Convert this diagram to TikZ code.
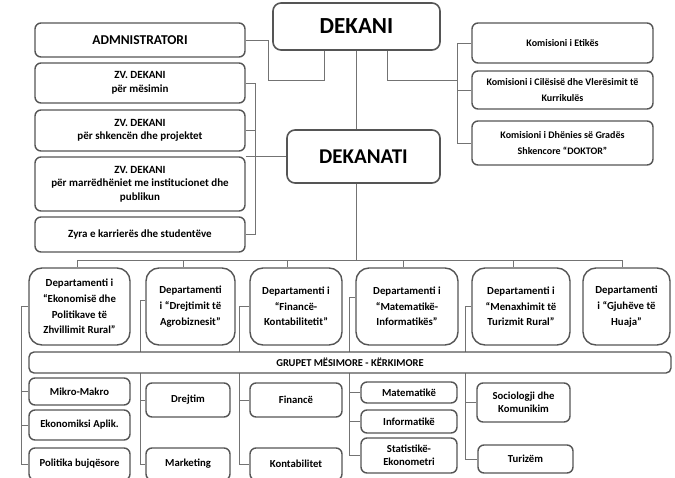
\documentclass[tikz,border=0pt]{standalone}
\usepackage{fontspec}
\setmainfont{Carlito}
\usetikzlibrary{backgrounds}
\definecolor{boxgray}{RGB}{85,85,85}
\definecolor{linegray}{RGB}{115,115,115}
\tikzset{
	box/.style={draw=boxgray, line width=1.4pt, rounded corners=6pt, fill=white, align=center, inner sep=1pt, font=\bfseries\fontsize{11}{13.5}\selectfont},
	bigbox/.style={box, line width=1.6pt, rounded corners=8pt, font=\bfseries\fontsize{23}{26}\selectfont},
	kombox/.style={box, font=\bfseries\fontsize{10}{16.5}\selectfont},
	dept/.style={box, rounded corners=13pt, minimum height=77pt, font=\bfseries\fontsize{10.8}{15.7}\selectfont},
	group/.style={box, font=\bfseries\fontsize{10.7}{13}\selectfont},
	link/.style={draw=linegray, line width=0.9pt},
}
\begin{document}
\begin{tikzpicture}[x=1pt,y=-1pt]
	\useasboundingbox (0,0) rectangle (675,477);
	\clip (0,0) rectangle (675,477);
	\pgfmathsetmacro\LX{140}
	\pgfmathsetmacro\LW{210}
	\pgfmathsetmacro\RX{562.5}
	\pgfmathsetmacro\RW{181}
	\pgfmathsetmacro\DY{306.5}
	
	% top
	\node[bigbox, minimum width=167pt, minimum height=47pt] (dekani) at (356.5,26.5) {DEKANI};
	\node[bigbox, minimum width=153pt, minimum height=53pt, font=\bfseries\fontsize{21}{24}\selectfont] (dekanati) at (363.5,156.5) {DEKANATI};
	
	% left column
	\node[box, minimum width=\LW pt, minimum height=34pt, font=\bfseries\fontsize{13.5}{15}\selectfont] (adm) at (\LX,40) {ADMNISTRATORI};
	\node[box, minimum width=\LW pt, minimum height=40pt] (zvm) at (\LX,83) {ZV. DEKANI\\për mësimin};
	\node[box, minimum width=\LW pt, minimum height=41pt] (zvs) at (\LX,130.5) {ZV. DEKANI\\për shkencën dhe projektet};
	\node[box, minimum width=\LW pt, minimum height=54pt] (zvi) at (\LX,184) {ZV. DEKANI\\për marrëdhëniet me institucionet dhe\\publikun};
	\node[box, minimum width=\LW pt, minimum height=35pt] (zyra) at (\LX,234.5) {Zyra e karrierës dhe studentëve};
	
	% right column
	\node[kombox, minimum width=\RW pt, minimum height=40pt] (ket) at (\RX,43) {Komisioni i Etikës};
	\node[kombox, minimum width=\RW pt, minimum height=38pt] (kcv) at (\RX,90) {Komisioni i Cilësisë dhe Vlerësimit të\\Kurrikulës};
	\node[kombox, minimum width=\RW pt, minimum height=44pt] (kdg) at (\RX,143) {Komisioni i Dhënies së Gradës\\Shkencore “DOKTOR”};
	
	% departments
	\node[dept, minimum width=101pt] (d1) at (79.5,\DY) {Departamenti i\\“Ekonomisë dhe\\Politikave të\\Zhvillimit Rural”};
	\node[dept, minimum width=89pt] (d2) at (190.5,\DY) {Departamenti\\i “Drejtimit të\\Agrobiznesit”};
	\node[dept, minimum width=92pt] (d3) at (296,\DY) {Departamenti i\\“Financë-\\Kontabilitetit”};
	\node[dept, minimum width=102pt] (d4) at (407,\DY) {Departamenti i\\“Matematikë-\\Informatikës”};
	\node[dept, minimum width=98pt] (d5) at (521,\DY) {Departamenti i\\“Menaxhimit të\\Turizmit Rural”};
	\node[dept, minimum width=87pt] (d6) at (626.5,\DY) {Departamenti\\i “Gjuhëve të\\Huaja”};
	
	\node[group, minimum width=642pt, minimum height=21pt, rounded corners=5pt, font=\bfseries\fontsize{10.5}{13}\selectfont] (grp) at (350,362.5) {GRUPET MËSIMORE - KËRKIMORE};
	
	% groups
	\node[group, minimum width=101pt, minimum height=27pt] (mm) at (79.5,391.5) {Mikro-Makro};
	\node[group, minimum width=101pt, minimum height=30pt] (ea) at (79.5,425) {Ekonomiksi Aplik.};
	\node[group, minimum width=101pt, minimum height=32pt] (pb) at (79.5,464) {Politika bujqësore};
	\node[group, minimum width=84pt, minimum height=34pt] (dr) at (188,400) {Drejtim};
	\node[group, minimum width=84pt, minimum height=32pt] (mk) at (188,464) {Marketing};
	\node[group, minimum width=92pt, minimum height=34pt] (fi) at (296,400) {Financë};
	\node[group, minimum width=92pt, minimum height=32pt] (ko) at (296,464) {Kontabilitet};
	\node[group, minimum width=96pt, minimum height=21pt] (ma) at (409,392.5) {Matematikë};
	\node[group, minimum width=96pt, minimum height=23pt] (in) at (409,421.5) {Informatikë};
	\node[group, minimum width=96pt, minimum height=35pt] (st) at (409,455.5) {Statistikë-\\Ekonometri};
	\node[group, minimum width=93pt, minimum height=39pt] (so) at (523.5,402.5) {Sociologji dhe\\Komunikim};
	\node[group, minimum width=95pt, minimum height=28pt] (tu) at (525.5,459) {Turizëm};
	
	\begin{scope}[on background layer]
	% dekani
	\coordinate (aj) at (268,80);
	\coordinate (kj) at (457,80);
	\draw[link] (adm.east) -| (aj) -| ([xshift=52pt]dekani.south west);
	\draw[link] ([xshift=115pt]dekani.south west) |- (kj);
	\draw[link] (dekani.south) -- (dekani.south |- dekanati.north);
	
	% zv. dekani
	\draw[link] (zvm.east) -| (255,0 |- zyra.east) -- (zyra.east);
	\draw[link] (zvs.east) -- (255,0 |- zvs.east);
	\draw[link] (zvi.east |- dekanati.west) -- (dekanati.west);
	
	% komisionet
	\draw[link] (ket.west) -| (457,0 |- kdg.west) -- (kdg.west);
	\draw[link] (kcv.west) -- (457,0 |- kcv.west);
	
	% departamentet
	\coordinate (busL) at (77,260);
	\coordinate (busR) at (622,260);
	\draw[link] (dekani.south |- dekanati.south) -- (dekani.south |- busL);
	\draw[link] (busL) -- (busR);
	\foreach \d/\x in {d1/77,d2/183,d3/287,d4/403,d5/513,d6/622}
		\draw[link] (\x,0 |- busL) -- (\d.north -| \x,0);
	
	% grupet
	\draw[link] (d1.west) -| (21,0 |- pb.west) -- (pb.west);
	\foreach \g in {mm,ea}
		\draw[link] (\g.west) -- (21,0 |- \g.west);
	\draw[link] ([yshift=6pt]d2.west) -| (140,0 |- mk.west) -- (mk.west);
	\draw[link] (dr.west) -- (140,0 |- dr.west);
	\draw[link] (d3.west) -| (239,0 |- ko.west) -- (ko.west);
	\draw[link] (fi.west) -- (239,0 |- fi.west);
	\draw[link] ([yshift=9pt]d4.west) -| (349,0 |- st.west) -- (st.west);
	\foreach \g in {ma,in}
		\draw[link] (\g.west) -- (349,0 |- \g.west);
	\draw[link] (d5.west) -| (465,0 |- tu.west) -- (tu.west);
	\draw[link] (so.west) -- (465,0 |- so.west);
	\end{scope}
\end{tikzpicture}
\end{document}
